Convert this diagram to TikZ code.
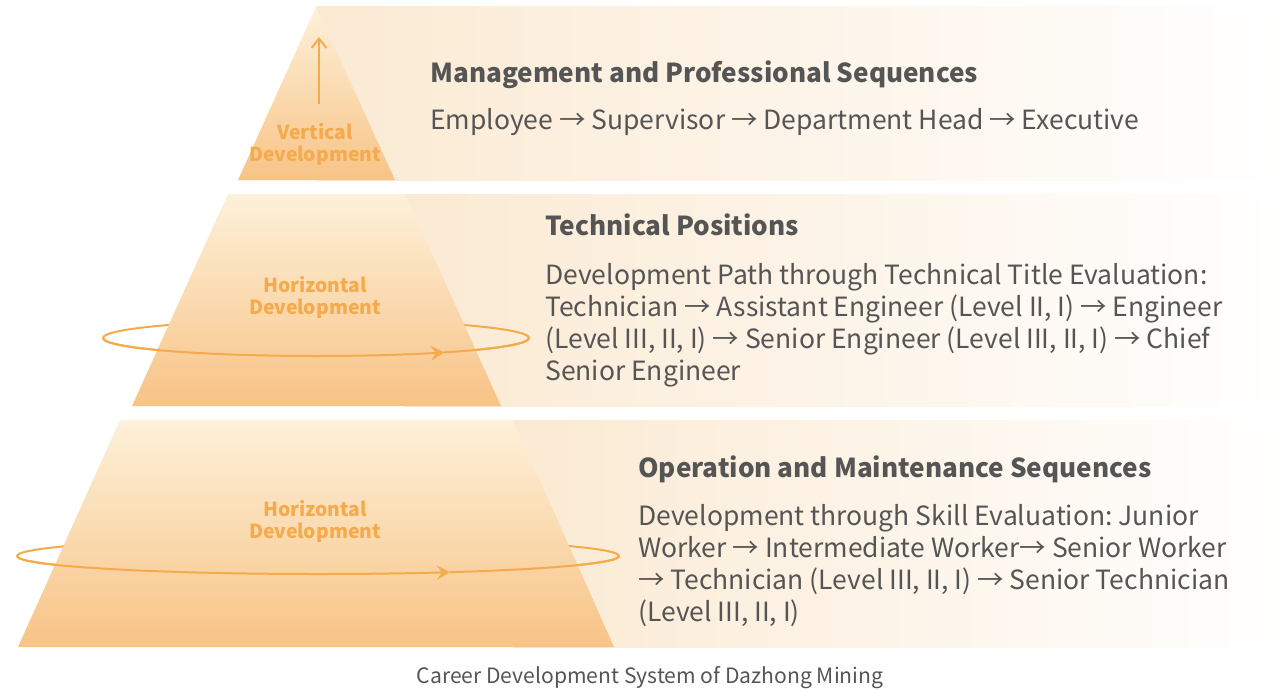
\documentclass[tikz,border=0pt]{standalone}
\usepackage{fontspec}
\setmainfont{Noto Sans CJK SC}
\usetikzlibrary{arrows.meta}
\definecolor{bandc}{RGB}{251,234,211}
\definecolor{pyrtop}{RGB}{253,241,218}
\definecolor{pyrbot}{RGB}{248,195,134}
\definecolor{orangec}{RGB}{245,170,75}
\definecolor{textc}{RGB}{85,85,85}
\frenchspacing
\begin{document}
\begin{tikzpicture}[x=.75pt,y=-.75pt,
  band/.style={left color=bandc,right color=white},
  pyr/.style={top color=pyrtop,bottom color=pyrbot},
  ring/.style={orangec,line width=1.5pt},
  lbl/.style={text=orangec,font=\fontsize{14.5}{16.5}\selectfont\bfseries,align=center,inner sep=0pt},
  head/.style={text=textc,font=\fontsize{19.6}{24}\selectfont\bfseries,anchor=base west,inner sep=0pt},
  body/.style={text=textc,font=\fontsize{19.85}{24}\selectfont,anchor=north west,align=left,inner sep=0pt}]
\useasboundingbox (0,0) rectangle (1287,692);
% bands
\shade[band] (316,7) rectangle (1282,180);
\shade[band] (405,194) rectangle (1282,406);
\shade[band] (513,420) rectangle (1282,647);
% rings behind the pyramid
\coordinate (ring2) at (316,338);
\coordinate (ring3) at (318,556);
\draw[ring] (ring2) ellipse [x radius=213,y radius=18];
\draw[ring] (ring3) ellipse [x radius=301,y radius=18];
% pyramid
\shade[pyr] (316,7)--(395,180)--(238,180)--cycle;
\shade[pyr] (228,194)--(405,194)--(501,406)--(132,406)--cycle;
\shade[pyr] (120,420)--(513,420)--(614,647)--(18,647)--cycle;
% front halves of the rings
\draw[ring,-{Stealth[length=10pt,width=11pt,inset=4pt]}] (ring2) ++(-213,0) arc[start angle=180,end angle=53,x radius=213,y radius=18] coordinate (tip2);
\draw[ring] (tip2) arc[start angle=53,end angle=0,x radius=213,y radius=18];
\draw[ring,-{Stealth[length=10pt,width=11pt,inset=4pt]}] (ring3) ++(-301,0) arc[start angle=180,end angle=64,x radius=301,y radius=18] coordinate (tip3);
\draw[ring] (tip3) arc[start angle=64,end angle=0,x radius=301,y radius=18];
% vertical arrow
\coordinate (vlow) at (319,104);
\coordinate (vhigh) at (319,37);
\draw[ring,-{Straight Barb[length=7pt,width=11pt]}] (vlow)--(vhigh);
% labels
\node[lbl] (vert) at (315,144.5) {Vertical\\Development};
\node[lbl] (hor2) at (315,297.5) {Horizontal\\Development};
\node[lbl] (hor3) at (315,521.5) {Horizontal\\Development};
\node[head] (mgmt) at (430,82) {Management and Professional Sequences};
\node[body] (mgmttxt) at (430,108.5) {Employee → Supervisor → Department Head → Executive};
\node[head] (tech) at (545,235) {Technical Positions};
\node[body] (techtxt) at (545,263.5) {Development Path through Technical Title Evaluation:\\Technician → Assistant Engineer (Level II, I) → Engineer\\(Level III, II, I) → Senior Engineer (Level III, II, I) → Chief\\Senior Engineer};
\node[head] (ops) at (638,477) {Operation and Maintenance Sequences};
\node[body] (opstxt) at (638,504.5) {Development through Skill Evaluation: Junior\\Worker → Intermediate Worker→ Senior Worker\\→ Technician (Level III, II, I) → Senior Technician\\(Level III, II, I)};
\node[text=textc,font=\fontsize{15.85}{18}\selectfont] (caption) at (650,678) {Career Development System of Dazhong Mining};
\end{tikzpicture}
\end{document}
